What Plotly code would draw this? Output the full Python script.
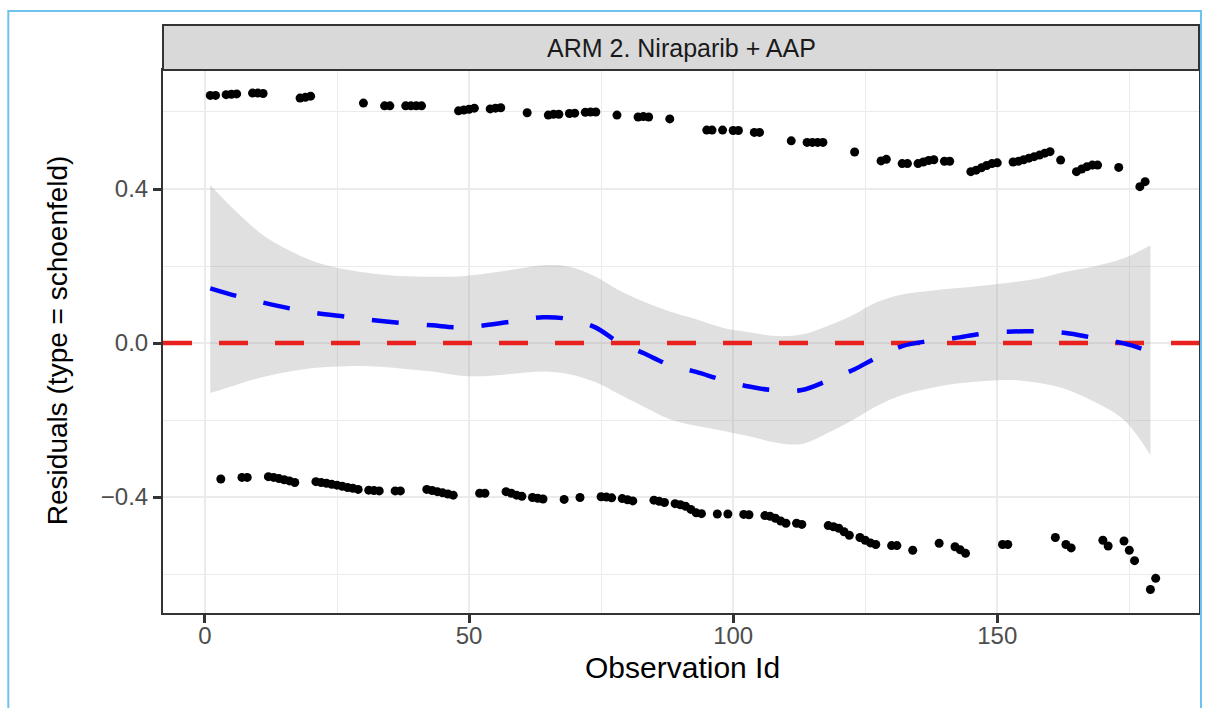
import plotly.graph_objects as go

# ---------------- data ----------------
top_ids = [1, 2, 4, 5, 6, 9, 10, 11, 18, 19, 20, 30, 34, 35, 38, 39, 40, 41, 48, 49, 50, 51, 54, 55, 56, 61,
           65, 66, 67, 69, 70, 72, 73, 74, 78, 82, 83, 84, 88, 95, 96, 98, 100, 101, 104, 105, 111, 114, 115,
           116, 117, 123, 128, 129, 132, 133, 135, 136, 137, 138, 140, 141, 145, 146, 147, 148, 149, 150, 153,
           154, 155, 156, 157, 158, 159, 160, 162, 165, 166, 167, 168, 169, 173, 177, 178]
top_vals = [0.643, 0.643, 0.645, 0.646, 0.647, 0.649, 0.649, 0.648, 0.636, 0.638, 0.641, 0.623, 0.616, 0.616,
            0.616, 0.616, 0.616, 0.616, 0.603, 0.605, 0.607, 0.610, 0.608, 0.610, 0.611, 0.598, 0.592, 0.594,
            0.594, 0.596, 0.597, 0.599, 0.600, 0.600, 0.592, 0.587, 0.588, 0.587, 0.582, 0.553, 0.553, 0.553,
            0.552, 0.552, 0.547, 0.547, 0.525, 0.521, 0.521, 0.521, 0.521, 0.496, 0.473, 0.477, 0.466, 0.466,
            0.466, 0.470, 0.474, 0.476, 0.472, 0.472, 0.445, 0.449, 0.455, 0.461, 0.466, 0.468, 0.470, 0.472,
            0.476, 0.480, 0.484, 0.488, 0.493, 0.497, 0.475, 0.445, 0.452, 0.458, 0.462, 0.462, 0.456, 0.406,
            0.419]

bot_ids = [3, 7, 8, 12, 13, 14, 15, 16, 17, 21, 22, 23, 24, 25, 26, 27, 28, 29, 31, 32, 33, 36, 37, 42, 43, 44,
           45, 46, 47, 52, 53, 57, 58, 59, 60, 62, 63, 64, 68, 71, 75, 76, 77, 79, 80, 81, 85, 86, 87, 89, 90,
           91, 92, 93, 94, 97, 99, 102, 103, 106, 107, 108, 109, 110, 112, 113, 118, 119, 120, 121, 122, 124,
           125, 126, 127, 130, 131, 134, 139, 142, 143, 144, 151, 152, 161, 163, 164, 170, 171, 174, 175, 176,
           179, 180]
bot_vals = [-0.353, -0.349, -0.349, -0.347, -0.349, -0.352, -0.355, -0.358, -0.362, -0.360, -0.362, -0.364,
            -0.367, -0.369, -0.372, -0.375, -0.377, -0.380, -0.382, -0.383, -0.384, -0.384, -0.384, -0.380,
            -0.383, -0.386, -0.389, -0.392, -0.395, -0.390, -0.390, -0.386, -0.390, -0.395, -0.398, -0.401,
            -0.403, -0.405, -0.406, -0.401, -0.399, -0.400, -0.402, -0.404, -0.407, -0.410, -0.408, -0.411,
            -0.414, -0.417, -0.420, -0.424, -0.432, -0.441, -0.443, -0.444, -0.444, -0.445, -0.446, -0.448,
            -0.450, -0.455, -0.462, -0.468, -0.468, -0.471, -0.474, -0.477, -0.481, -0.490, -0.499, -0.505,
            -0.512, -0.519, -0.523, -0.526, -0.526, -0.538, -0.520, -0.529, -0.537, -0.546, -0.523, -0.523,
            -0.505, -0.523, -0.532, -0.512, -0.527, -0.514, -0.538, -0.565, -0.640, -0.611]

smooth_ids = [1, 6, 11, 16, 21, 27, 32, 37, 43, 48, 53, 59, 64, 69, 74, 78, 83, 88, 93, 98, 103, 108, 113,
              118, 123, 127, 132, 137, 142, 147, 153, 158, 163, 168, 174, 179]
smooth_fit = [0.142, 0.122, 0.105, 0.090, 0.078, 0.068, 0.059, 0.052, 0.046, 0.041, 0.046, 0.058, 0.067,
              0.062, 0.040, 0.005, -0.026, -0.057, -0.075, -0.096, -0.113, -0.123, -0.122, -0.097, -0.068,
              -0.039, -0.008, 0.005, 0.013, 0.024, 0.030, 0.030, 0.026, 0.014, -0.001, -0.022]
smooth_upper = [0.410, 0.340, 0.280, 0.240, 0.210, 0.190, 0.180, 0.174, 0.172, 0.173, 0.180, 0.192, 0.202,
                0.198, 0.172, 0.140, 0.108, 0.082, 0.062, 0.040, 0.028, 0.018, 0.022, 0.045, 0.075, 0.105,
                0.126, 0.135, 0.142, 0.149, 0.158, 0.168, 0.185, 0.198, 0.220, 0.254]
smooth_lower = [-0.130, -0.108, -0.088, -0.074, -0.064, -0.060, -0.061, -0.066, -0.074, -0.084, -0.086,
                -0.079, -0.074, -0.081, -0.102, -0.130, -0.165, -0.198, -0.215, -0.228, -0.242, -0.258,
                -0.262, -0.233, -0.197, -0.165, -0.135, -0.118, -0.106, -0.099, -0.096, -0.104, -0.120,
                -0.150, -0.200, -0.291]

ref_level = 0.0
x_range = [-7.95, 188.2]
y_range = [-0.701, 0.709]
x_ticks = [0, 50, 100, 150]
y_ticks = [-0.4, 0.0, 0.4]
y_tick_text = ["\u22120.4", "0.0", "0.4"]

strip_label = "ARM 2. Niraparib + AAP"
x_title = "Observation Id"
y_title = "Residuals (type = schoenfeld)"

FONT = "Liberation Sans, Arial, sans-serif"
GRID = "#EBEBEB"
DARK = "#333333"

fig = go.Figure()

# confidence band
fig.add_trace(go.Scatter(x=smooth_ids, y=smooth_lower, mode="lines", line=dict(width=0, shape="spline"),
                         hoverinfo="skip", showlegend=False))
fig.add_trace(go.Scatter(x=smooth_ids, y=smooth_upper, mode="lines", line=dict(width=0, shape="spline"),
                         fill="tonexty", fillcolor="rgba(153,153,153,0.30)", hoverinfo="skip",
                         showlegend=False))

# red reference line
fig.add_trace(go.Scatter(x=x_range, y=[ref_level, ref_level], mode="lines",
                         line=dict(color="#E8201E", width=4.5, dash="29px,27px"), showlegend=False))

# blue smooth
fig.add_trace(go.Scatter(x=smooth_ids, y=smooth_fit, mode="lines",
                         line=dict(color="#0000FF", width=4.5, dash="27px,28px", shape="spline"),
                         showlegend=False))

# points
fig.add_trace(go.Scatter(x=top_ids, y=top_vals, mode="markers",
                         marker=dict(color="black", size=9, line=dict(width=0)), showlegend=False))
fig.add_trace(go.Scatter(x=bot_ids, y=bot_vals, mode="markers",
                         marker=dict(color="black", size=9, line=dict(width=0)), showlegend=False))

axis_common = dict(
    showline=True, linecolor=DARK, linewidth=2, mirror=True,
    ticks="outside", ticklen=8, tickwidth=2.5, tickcolor=DARK,
    showgrid=True, gridcolor=GRID, gridwidth=2.4, zeroline=False,
    tickfont=dict(family=FONT, size=24, color="#4D4D4D"),
)

fig.update_xaxes(range=x_range, tickmode="array", tickvals=x_ticks, ticktext=[str(v) for v in x_ticks],
                 ticklabelstandoff=-8,
                 minor=dict(tickmode="array", tickvals=[25, 75, 125, 175], showgrid=True, gridcolor=GRID,
                            gridwidth=1.2, ticks=""),
                 **axis_common)
fig.update_yaxes(range=y_range, tickmode="array", tickvals=y_ticks, ticktext=y_tick_text,
                 minor=dict(tickmode="array", tickvals=[-0.6, -0.2, 0.2, 0.6], showgrid=True, gridcolor=GRID,
                            gridwidth=1.2, ticks=""),
                 **axis_common)

# plot area: x 163..1201, y 70..613 (px)
L, R, T, B = 163, 5, 70, 95
W, H = 1206, 708
pw, ph = W - L - R, H - T - B


def px_x(p):
    return (p - L) / pw


def px_y(p):
    return (H - B - p) / ph


shapes = [
    # strip
    dict(type="rect", xref="paper", yref="paper", x0=0, x1=1, y0=1.0, y1=px_y(25),
         fillcolor="#D9D9D9", line=dict(color=DARK, width=2), layer="above"),
    # outer light-blue frame
    dict(type="path", xref="paper", yref="paper",
         path=f"M {px_x(8)},{px_y(730)} L {px_x(8)},{px_y(11)} L {px_x(1203)},{px_y(11)} L {px_x(1203)},{px_y(730)}",
         line=dict(color="#6CC4EE", width=2)),
]

annotations = [
    dict(text=strip_label, xref="paper", yref="paper", x=0.5, y=px_y(47.5), xanchor="center",
         yanchor="middle", showarrow=False, font=dict(family=FONT, size=25, color="#1A1A1A")),
    dict(text=x_title, xref="paper", yref="paper", x=px_x(683.5), y=px_y(667), xanchor="center",
         yanchor="middle", showarrow=False, font=dict(family=FONT, size=30, color="black")),
    dict(text=y_title, xref="paper", yref="paper", x=px_x(57), y=px_y(340), xanchor="center",
         yanchor="middle", textangle=-90, showarrow=False, font=dict(family=FONT, size=28, color="black")),
]

fig.update_layout(
    width=W, height=H,
    margin=dict(l=L, r=R, t=T, b=B, pad=0),
    paper_bgcolor="white", plot_bgcolor="white",
    shapes=shapes, annotations=annotations,
    showlegend=False,
)

fig.write_html("out.html")
